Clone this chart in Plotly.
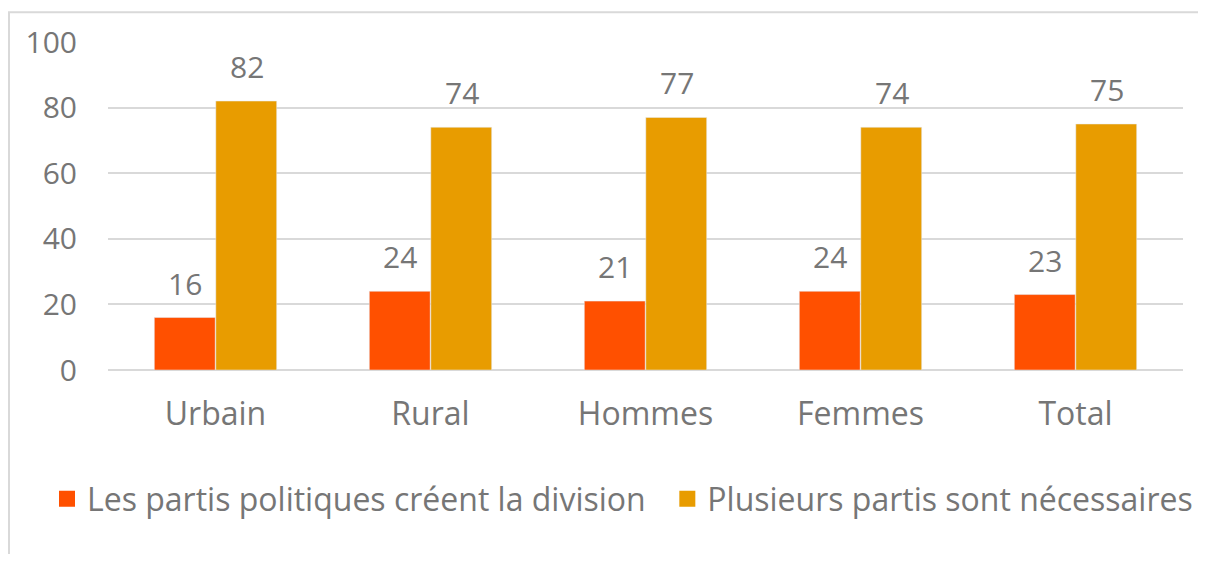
import plotly.graph_objects as go

categories = ["Urbain", "Rural", "Hommes", "Femmes", "Total"]
division = [16, 24, 21, 24, 23]
necessaires = [82, 74, 77, 74, 75]
series_names = ["Les partis politiques créent la division", "Plusieurs partis sont nécessaires"]
colors = ["#FF5000", "#E89C00"]
y_ticks = [0, 20, 40, 60, 80, 100]

FONT = "Open Sans, DejaVu Sans, sans-serif"
GRAY = "#767676"
NUM = 30
TXT = 32

fig = go.Figure()
for vals, name, col in zip((division, necessaires), series_names, colors):
    fig.add_trace(go.Bar(x=categories, y=vals, name=name, marker_color=col, showlegend=False))
# legend entries with larger square swatches (extra non-breaking spaces widen the gap between entries)
for i, (name, col) in enumerate(zip(series_names, colors)):
    label = name + ("\u00a0\u00a0" if i == 0 else "")
    fig.add_trace(go.Scatter(x=[categories[0]], y=[None], name=label, mode="markers",
                             marker=dict(symbol="square", size=18, color=col),
                             showlegend=True, hoverinfo="skip"))

annotations = []
for vals, shift in ((division, -31), (necessaires, 31)):
    for c, v in zip(categories, vals):
        annotations.append(dict(x=c, y=v, text=str(v), showarrow=False, xshift=shift,
                                yanchor="bottom", yshift=12,
                                font=dict(size=NUM, color=GRAY, family=FONT)))

# page body has an 8px margin: figure sized to fit the window without scrollbars,
# margins chosen so the plot lands where the reference has it
fig.update_layout(
    width=1190, height=546,
    margin=dict(l=100, r=15, t=31, b=184),
    paper_bgcolor="white", plot_bgcolor="white",
    barmode="group", bargap=0.428, bargroupgap=0.01,
    font=dict(family=FONT, color=GRAY, size=TXT),
    showlegend=True,
    legend=dict(orientation="h", x=-0.0552, xanchor="left", y=-0.393, yanchor="middle",
                font=dict(size=TXT, color=GRAY, family=FONT), itemwidth=30,
                traceorder="normal"),
    xaxis=dict(showline=False, ticks="", tickfont=dict(size=TXT, color=GRAY),
               ticklabelstandoff=22),
    yaxis=dict(range=[0, 100], tickvals=y_ticks, showgrid=True, gridcolor="#d9d9d9",
               gridwidth=1.5, zeroline=True, zerolinecolor="#d9d9d9", zerolinewidth=1.5,
               tickfont=dict(size=NUM, color=GRAY), ticklabelstandoff=30),
    annotations=annotations,
    shapes=[dict(type="rect", xref="paper", yref="paper",
                 x0=(9 - 108) / 1075, x1=1.2, y0=-0.8, y1=(370 - 9) / 331,
                 line=dict(color="#d9d9d9", width=2), layer="below")],
)

fig.write_html("out.html")
